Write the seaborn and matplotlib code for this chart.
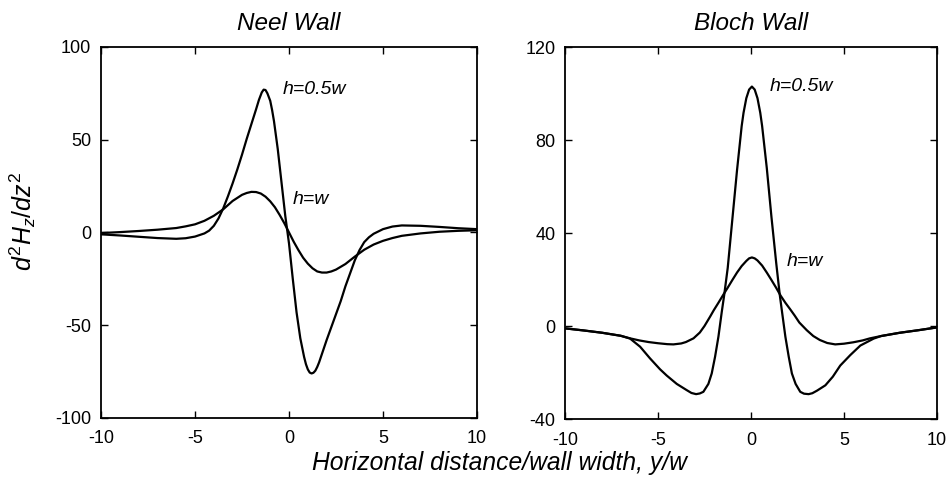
import matplotlib
matplotlib.use("Agg")
import matplotlib.pyplot as plt
import seaborn as sns

# ---------------- data ----------------
neel_x_half = [-10, -9, -8, -7, -6, -5.5, -5, -4.5, -4.25, -4, -3.75, -3.5, -3.25, -3, -2.75,
               -2.5, -2.25, -2, -1.75, -1.6, -1.45, -1.35, -1.25, -1.15, -1.0, -0.9, -0.8,
               -0.6, -0.4, -0.2, 0, 0.2, 0.4, 0.6, 0.8, 0.9, 1.0, 1.1, 1.2, 1.3, 1.4, 1.5,
               1.6, 1.8, 2.0, 2.25, 2.5, 2.75, 3.0, 3.25, 3.5, 3.75, 4.0, 4.25, 4.5, 5,
               5.5, 6, 7, 8, 9, 10]
neel_y_half = [-1.0, -1.6, -2.3, -3.0, -3.4, -3.1, -2.2, -0.5, 1.0, 3.6, 7.6, 13.0, 19.5, 26.5, 34,
               42, 50.5, 58.5, 66.5, 71.5, 75.5, 77, 76.8, 75, 71, 66, 60,
               45, 27, 9, -6, -25, -43, -57, -67, -71, -73.8, -75.5, -76, -75.6, -74.5, -72.5,
               -70, -64, -58, -51, -44, -37, -29, -22, -15, -9.5, -5.2, -2.6, -0.7, 1.8,
               3.2, 3.8, 3.6, 3.0, 2.3, 1.8]

neel_x_full = [-10, -9, -8, -7, -6, -5.5, -5, -4.5, -4, -3.5, -3, -2.5, -2.25, -2.0, -1.75,
               -1.5, -1.25, -1.0, -0.75, -0.5, -0.25, 0, 0.25, 0.5, 0.75, 1.0, 1.25,
               1.5, 1.75, 2.0, 2.25, 2.5, 3.0, 3.5, 4.0, 4.5, 5, 5.5, 6, 7, 8, 9, 10]
neel_y_full = [-0.3, 0.2, 0.8, 1.5, 2.4, 3.3, 4.4, 6.3, 9.0, 12.5, 17.0, 20.3, 21.3, 21.9, 21.8,
               21.0, 19.3, 16.8, 13.6, 9.5, 5.0, 0.0, -5.0, -9.5, -13.6, -16.8, -19.3,
               -21.0, -21.6, -21.6, -21.0, -20.0, -17.0, -13.0, -9.3, -6.5, -4.5, -3.0, -1.8, -0.5, 0.4, 0.9, 1.2]

bloch_x_half = [-10, -9, -8, -7, -6.5, -5.96, -5.43, -4.89, -4.53, -3.99, -3.45, -3.2, -2.95,
                -2.75, -2.56, -2.29, -2.11, -1.93, -1.75, -1.57, -1.44, -1.25, -1.0, -0.75,
                -0.5, -0.4, -0.25, -0.1, 0.05, 0.2, 0.35, 0.5, 0.6, 0.85, 1.1, 1.36, 1.55,
                1.67, 1.85, 2.03, 2.2, 2.4, 2.65, 2.85, 3.1, 3.3, 3.55, 4.0, 4.4, 4.8, 5.34,
                5.88, 6.6, 7, 8, 9, 10]
bloch_y_half = [-1.0, -1.9, -2.9, -4.2, -5.4, -8.9, -13.9, -18.6, -21.3, -24.9, -27.6, -28.8, -29.3,
                -29.0, -28.3, -24.9, -20.4, -13.2, -4.6, 6.1, 13.3, 25.0, 46, 67,
                86, 91.7, 98, 101.7, 103, 101.7, 98, 91.7, 86, 68, 47, 26.9, 13.3,
                6.1, -4.6, -13.2, -20.4, -24.9, -28.3, -29.1, -29.3, -28.9, -27.8, -25.5, -21.8, -17.0, -12.5,
                -8.4, -5.4, -4.3, -2.9, -1.8, -0.6]

bloch_x_full = [-10, -9, -8, -7, -6.5, -6, -5.5, -5, -4.5, -4.17, -3.75, -3.5, -3.09, -2.75,
                -2.5, -2.2, -2.0, -1.75, -1.5, -1.25, -1.0, -0.75, -0.5, -0.25, -0.1, 0.05,
                0.2, 0.35, 0.6, 0.85, 1.1, 1.35, 1.6, 1.85, 2.1, 2.35, 2.6, 3.0, 3.35, 3.7, 4.1, 4.53,
                5.0, 5.5, 6.0, 6.4, 7, 8, 9, 10]
bloch_y_full = [-1.0, -1.9, -2.9, -4.2, -5.3, -6.2, -6.9, -7.4, -7.8, -7.9, -7.5, -6.9, -5.3, -2.8,
                0.0, 4.0, 6.8, 10.0, 13.3, 16.5, 19.8, 23.0, 25.8, 28.0, 29.1, 29.5,
                29.1, 28.2, 26.0, 23.0, 19.8, 16.5, 13.0, 10.0, 7.3, 4.5, 1.5, -1.8, -4.3, -6.0, -7.3, -7.9,
                -7.6, -7.0, -6.2, -5.3, -4.3, -2.9, -1.8, -0.6]

x_ticks = [-10, -5, 0, 5, 10]
neel_yticks = [-100, -50, 0, 50, 100]
bloch_yticks = [-40, 0, 40, 80, 120]
titles = ["Neel Wall", "Bloch Wall"]
curve_labels = ["h=0.5w", "h=w"]

# ---------------- style ----------------
sns.set_theme(style="ticks")
plt.rcParams["font.family"] = ["Liberation Sans", "DejaVu Sans"]
plt.rcParams["axes.unicode_minus"] = False
plt.rcParams["text.color"] = "black"
plt.rcParams["axes.titlecolor"] = "black"
plt.rcParams["mathtext.fontset"] = "custom"
plt.rcParams["mathtext.it"] = "Liberation Sans:italic"
plt.rcParams["mathtext.rm"] = "Liberation Sans"

fig = plt.figure(figsize=(9.47, 4.91), dpi=100)
ax1 = fig.add_axes([0.1067, 0.1487, 0.3970, 0.7556])
ax2 = fig.add_axes([0.5966, 0.1466, 0.3928, 0.7576])

panels = [
    (ax1, neel_x_half, neel_y_half, neel_x_full, neel_y_full, neel_yticks,
     [(-0.32, 77.0), (0.21, 18.0)]),
    (ax2, bloch_x_half, bloch_y_half, bloch_x_full, bloch_y_full, bloch_yticks,
     [(1.03, 103.0), (1.93, 27.7)]),
]

for i, (ax, xh, yh, xf, yf, yt, lab_pos) in enumerate(panels):
    sns.lineplot(x=xh, y=yh, ax=ax, color="black", lw=1.6, sort=False)
    sns.lineplot(x=xf, y=yf, ax=ax, color="black", lw=1.6, sort=False)
    ax.set_xlim(-10, 10)
    ax.set_ylim(yt[0], yt[-1])
    ax.set_xticks(x_ticks)
    ax.set_yticks(yt)
    ax.tick_params(direction="in", length=5, width=1.0, top=True, right=True,
                   labelsize=13, colors="black")
    ax.tick_params(axis="x", pad=9)
    ax.tick_params(axis="y", pad=7)
    for sp in ax.spines.values():
        sp.set_linewidth(1.3)
        sp.set_color("black")
    ax.set_title(titles[i], fontsize=17.5, style="italic", pad=12, color="black")
    for (tx, ty), lab in zip(lab_pos, curve_labels):
        ax.text(tx, ty, lab, fontsize=14, style="italic", ha="left", va="center",
                color="black")
    ax.set_xlabel("")
    ax.set_ylabel("")

fig.text(0.527, 0.057, "Horizontal distance/wall width, y/w", fontsize=17.7,
         style="italic", ha="center", va="center", color="black")
fig.text(0.024, 0.548, r"$d^2H_z/dz^2$", fontsize=18, rotation=90,
         ha="center", va="center", color="black")

fig.savefig("out.png", dpi=100)
